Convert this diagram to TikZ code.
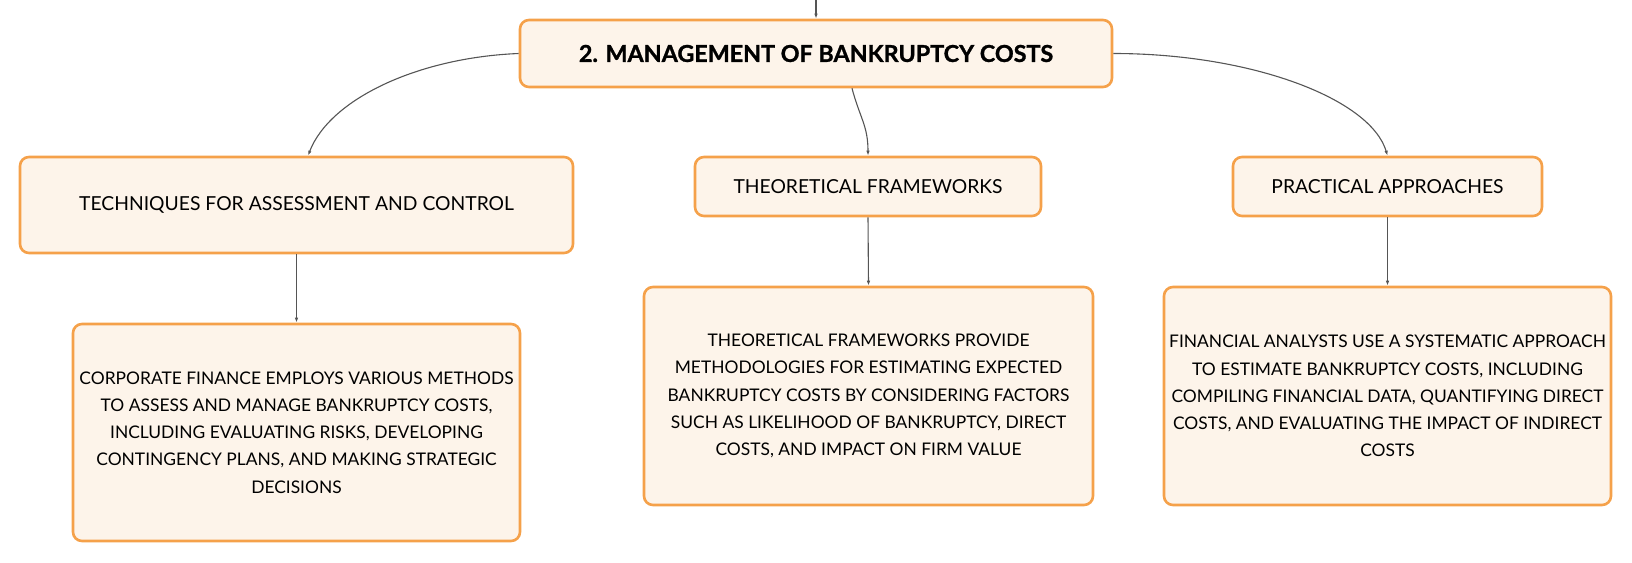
\documentclass[tikz,border=0pt]{standalone}
\usepackage{fontspec}
\setmainfont{Lato}
\usetikzlibrary{arrows.meta}
\definecolor{boxborder}{HTML}{F5A14A}
\definecolor{boxfill}{HTML}{FDF4EA}
\definecolor{linkgray}{HTML}{555555}
\tikzset{
  box/.style={draw=boxborder, fill=boxfill, line width=2.6pt, rounded corners=9pt,
    rectangle, align=center, inner sep=0pt, text=black},
  titlebox/.style={box, font=\fontsize{23.3}{27}\selectfont\bfseries\addfontfeature{FakeBold=1.2}},
  headbox/.style={box, font=\fontsize{19.3}{23}\selectfont},
  textbox/.style={box, font=\fontsize{17.4}{27.2}\selectfont},
  link/.style={draw=linkgray, line width=1.1pt, -{Latex[length=5pt,width=3.5pt]}}
}
\begin{document}
\begin{tikzpicture}[x=1pt,y=-1pt]
\useasboundingbox (0,0) rectangle (1632,562);
\node[titlebox, minimum width=592pt, minimum height=67pt] (title) at (816,53.5) {2. MANAGEMENT OF BANKRUPTCY COSTS};
\node[headbox, minimum width=553pt, minimum height=96pt] (tech) at (296.5,205) {TECHNIQUES FOR ASSESSMENT AND CONTROL};
\node[headbox, minimum width=346pt, minimum height=59pt] (theo) at (868,186.5) {THEORETICAL FRAMEWORKS};
\node[headbox, minimum width=309pt, minimum height=59pt] (prac) at (1387.5,186.5) {PRACTICAL APPROACHES};
\node[textbox, minimum width=447pt, minimum height=217pt] (d1) at (296.5,432.5) {CORPORATE FINANCE EMPLOYS VARIOUS METHODS\\TO ASSESS AND MANAGE BANKRUPTCY COSTS,\\INCLUDING EVALUATING RISKS, DEVELOPING\\CONTINGENCY PLANS, AND MAKING STRATEGIC\\DECISIONS};
\node[textbox, minimum width=449pt, minimum height=218pt] (d2) at (868.5,396) {THEORETICAL FRAMEWORKS PROVIDE\\METHODOLOGIES FOR ESTIMATING EXPECTED\\BANKRUPTCY COSTS BY CONSIDERING FACTORS\\SUCH AS LIKELIHOOD OF BANKRUPTCY, DIRECT\\COSTS, AND IMPACT ON FIRM VALUE};
\node[textbox, minimum width=447pt, minimum height=218pt] (d3) at (1387.5,396) {FINANCIAL ANALYSTS USE A SYSTEMATIC APPROACH\\TO ESTIMATE BANKRUPTCY COSTS, INCLUDING\\COMPILING FINANCIAL DATA, QUANTIFYING DIRECT\\COSTS, AND EVALUATING THE IMPACT OF INDIRECT\\COSTS};
\coordinate (top) at (816,0);
\draw[link] (top) -- (title.north);
\draw[link] (title.west) .. controls +(-100,4) and +(22,-57) .. ([xshift=11.5pt]tech.north);
\draw[link] ([xshift=36pt]title.south) .. controls +(8,30) and +(0,-30) .. (theo.north);
\draw[link] (title.east) .. controls +(138,0) and +(-17,-57) .. (prac.north);
\draw[link] (tech.south) -- (d1.north);
\draw[link] (theo.south) -- (d2.north);
\draw[link] (prac.south) -- (d3.north);
\end{tikzpicture}
\end{document}
